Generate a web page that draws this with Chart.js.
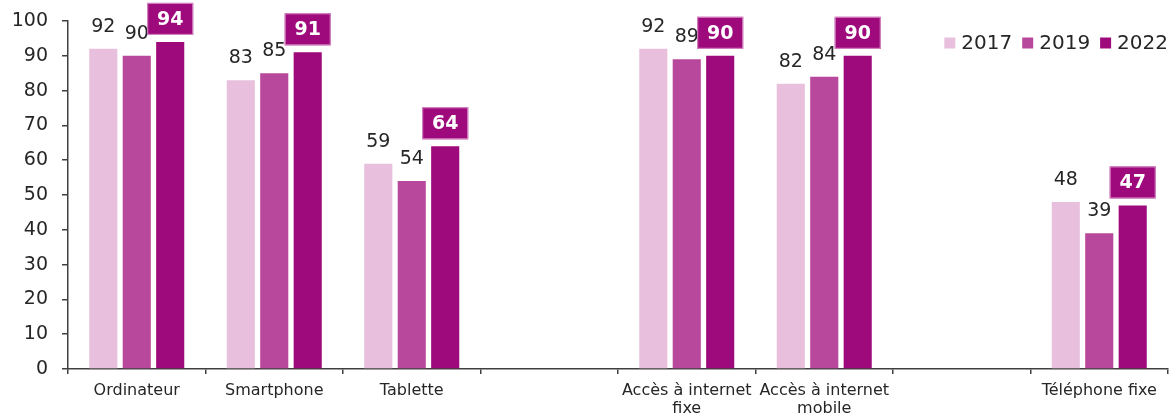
<!DOCTYPE html>
<html><head><meta charset="utf-8">
<script src="https://cdn.jsdelivr.net/npm/chart.js@4/dist/chart.umd.min.js"></script>
<style>html,body{margin:0;padding:0;background:#fff;}canvas{display:block;}</style>
</head><body>
<canvas id="c" width="1173" height="416"></canvas>
<script>
const categories = ['Ordinateur', 'Smartphone', 'Tablette', '', ['Accès à internet', 'fixe'], ['Accès à internet', 'mobile'], '', 'Téléphone fixe'];
const seriesLabels = ['2017', '2019', '2022'];
const values2017 = [92, 83, 59, null, 92, 82, null, 48];
const values2019 = [90, 85, 54, null, 89, 84, null, 39];
const values2022 = [94, 91, 64, null, 90, 90, null, 47];
const yTicks = [0, 10, 20, 30, 40, 50, 60, 70, 80, 90, 100];
const colors = ['#E8C0DD', '#B8489C', '#9E0A7C'];

const FONT = '"DejaVu Sans", Verdana, sans-serif';
const TEXT = '#262626';
const AXIS = '#404040';

const labelPlugin = {
  id: 'valueLabels',
  afterDatasetsDraw(chart) {
    const ctx = chart.ctx;
    ctx.save();
    chart.data.datasets.forEach((ds, di) => {
      const meta = chart.getDatasetMeta(di);
      meta.data.forEach((bar, i) => {
        const v = ds.data[i];
        if (v === null || v === undefined) return;
        const cx = bar.x, cy = bar.y - 23;
        ctx.textAlign = 'center';
        ctx.textBaseline = 'middle';
        if (di === 2) {
          ctx.fillStyle = colors[2];
          ctx.fillRect(cx - 23, cy - 16, 46, 32);
          ctx.strokeStyle = '#D98FC8';
          ctx.lineWidth = 1;
          ctx.strokeRect(cx - 22.5, cy - 15.5, 45, 31);
          ctx.fillStyle = '#ffffff';
          ctx.font = 'bold 19px ' + FONT;
          ctx.fillText(String(v), cx, cy + 1);
        } else {
          ctx.fillStyle = TEXT;
          ctx.font = '19px ' + FONT;
          ctx.fillText(String(v), cx, cy + 1);
        }
      });
    });
    ctx.restore();
  }
};

const legendPlugin = {
  id: 'customLegend',
  afterDraw(chart) {
    const ctx = chart.ctx;
    ctx.save();
    ctx.font = '20px ' + FONT;
    const sq = 11, gapSq = 6, gapItem = 10;
    const items = chart.data.datasets.map(d => ({label: d.label, color: d.backgroundColor, w: ctx.measureText(d.label).width}));
    let total = 0;
    items.forEach((it, k) => { total += sq + gapSq + it.w + (k < items.length - 1 ? gapItem : 0); });
    let x = chart.chartArea.right - total;
    const yc = 43;
    items.forEach(it => {
      ctx.fillStyle = it.color;
      ctx.fillRect(x, yc - sq / 2, sq, sq);
      x += sq + gapSq;
      ctx.fillStyle = TEXT;
      ctx.textAlign = 'left';
      ctx.textBaseline = 'middle';
      ctx.fillText(it.label, x, yc + 1);
      x += it.w + gapItem;
    });
    ctx.restore();
  }
};

new Chart(document.getElementById('c'), {
  type: 'bar',
  data: {
    labels: categories,
    datasets: [
      {label: seriesLabels[0], data: values2017, backgroundColor: colors[0]},
      {label: seriesLabels[1], data: values2019, backgroundColor: colors[1]},
      {label: seriesLabels[2], data: values2022, backgroundColor: colors[2]}
    ]
  },
  options: {
    responsive: false,
    devicePixelRatio: 1,
    animation: false,
    layout: {padding: {top: 21, right: 5, bottom: 0, left: 0}},
    datasets: {bar: {categoryPercentage: 0.73, barPercentage: 0.84, skipNull: false}},
    plugins: {legend: {display: false}, tooltip: {enabled: false}},
    scales: {
      x: {
        afterFit(s) { s.height = 47; s.paddingLeft = 0; s.paddingRight = 0; },
        grid: {offset: true, drawOnChartArea: false, drawTicks: true, tickLength: 5, color: AXIS, lineWidth: 1.5},
        border: {display: true, color: AXIS, width: 1.5},
        ticks: {color: TEXT, font: {family: FONT, size: 16, lineHeight: 1.1}, padding: 8, maxRotation: 0, autoSkip: false}
      },
      y: {
        min: 0, max: 100,
        afterFit(s) { s.width = 68; s.paddingTop = 0; s.paddingBottom = 0; },
        afterBuildTicks(s) { s.ticks = yTicks.map(v => ({value: v})); },
        grid: {drawOnChartArea: false, drawTicks: true, tickLength: 6, color: AXIS, lineWidth: 1.5},
        border: {display: true, color: AXIS, width: 1.5},
        ticks: {color: TEXT, font: {family: FONT, size: 19}, padding: 14}
      }
    }
  },
  plugins: [labelPlugin, legendPlugin]
});
</script>
</body></html>
